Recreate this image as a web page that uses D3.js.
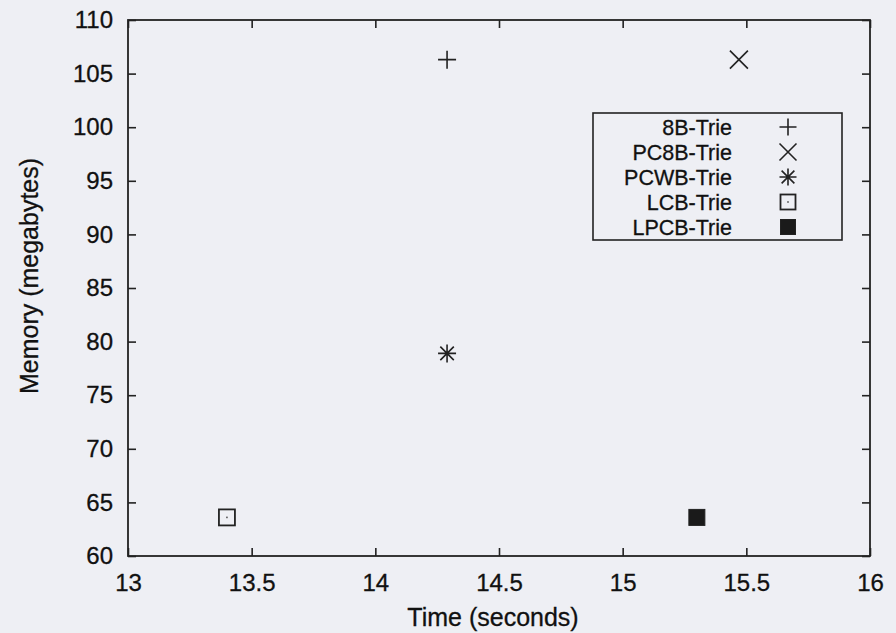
<!DOCTYPE html>
<html><head><meta charset="utf-8">
<script src="https://cdn.jsdelivr.net/npm/d3@7"></script>
<style>
html,body{margin:0;padding:0;background:#eeeff4;}
svg{display:block;}
text{font-family:"Liberation Sans",Arial,Helvetica,sans-serif;fill:#111;stroke:#111;stroke-width:0.3;}
</style></head>
<body>
<svg id="chart" width="896" height="633"></svg>
<script>
const seriesNames = ["8B-Trie","PC8B-Trie","PCWB-Trie","LCB-Trie","LPCB-Trie"];
const timeValues = [14.29, 15.47, 14.29, 13.40, 15.30];
const memoryValues = [106.3, 106.3, 78.9, 63.6, 63.6];
const xTicks = [13,13.5,14,14.5,15,15.5,16];
const yTicks = [60,65,70,75,80,85,90,95,100,105,110];

const W=896,H=633;
const m={left:128,right:870,top:20,bottom:556};
const svg=d3.select("#chart");
svg.append("rect").attr("width",W).attr("height",H).attr("fill","#eeeff4");

const x=d3.scaleLinear().domain([13,16]).range([m.left,m.right]);
const y=d3.scaleLinear().domain([60,110]).range([m.bottom,m.top]);
const ink="#222";
const tickLen=8;

const g=svg.append("g");
const ax=g.append("g").attr("transform",`translate(0,${m.bottom})`)
  .call(d3.axisBottom(x).tickValues(xTicks).tickSize(-tickLen).tickPadding(18).tickFormat(d3.format("")));
const axT=g.append("g").attr("transform",`translate(0,${m.top})`)
  .call(d3.axisTop(x).tickValues(xTicks).tickSize(-tickLen).tickFormat(""));
const ay=g.append("g").attr("transform",`translate(${m.left},0)`)
  .call(d3.axisLeft(y).tickValues(yTicks).tickSize(-tickLen).tickPadding(15).tickFormat(d3.format("")));
const ayR=g.append("g").attr("transform",`translate(${m.right},0)`)
  .call(d3.axisRight(y).tickValues(yTicks).tickSize(-tickLen).tickFormat(""));
[ax,axT,ay,ayR].forEach(a=>{
  a.select(".domain").remove();
  a.selectAll(".tick line").attr("stroke",ink).attr("stroke-width",1.6);
  a.selectAll(".tick text").attr("font-size",24).attr("fill","#111");
});
g.append("rect").attr("x",m.left).attr("y",m.top).attr("width",m.right-m.left).attr("height",m.bottom-m.top)
  .attr("fill","none").attr("stroke",ink).attr("stroke-width",1.8);

svg.append("text").attr("x",(m.left+m.right)/2-6).attr("y",626).attr("text-anchor","middle")
  .attr("font-size",25).text("Time (seconds)");
svg.append("text").attr("transform",`translate(38,${(m.top+m.bottom)/2-12}) rotate(-90)`).attr("text-anchor","middle")
  .attr("font-size",25).text("Memory (megabytes)");

function marker(sel,type,s){
  const h=s/2;
  if(type===0){
    sel.append("path").attr("d",`M${-h},0H${h}M0,${-h}V${h}`).attr("stroke",ink).attr("stroke-width",1.6).attr("fill","none");
  } else if(type===1){
    sel.append("path").attr("d",`M${-h},${-h}L${h},${h}M${-h},${h}L${h},${-h}`).attr("stroke",ink).attr("stroke-width",1.6).attr("fill","none");
  } else if(type===2){
    sel.append("path").attr("d",`M${-h},0H${h}M0,${-h}V${h}M${-h*0.75},${-h*0.75}L${h*0.75},${h*0.75}M${-h*0.75},${h*0.75}L${h*0.75},${-h*0.75}`)
      .attr("stroke",ink).attr("stroke-width",1.6).attr("fill","none");
  } else if(type===3){
    sel.append("rect").attr("x",-h).attr("y",-h).attr("width",s).attr("height",s).attr("fill","none").attr("stroke",ink).attr("stroke-width",1.8);
    sel.append("rect").attr("x",-0.8).attr("y",-0.8).attr("width",1.6).attr("height",1.6).attr("fill","#555");
  } else {
    sel.append("rect").attr("x",-h).attr("y",-h).attr("width",s).attr("height",s).attr("fill","#1a1a1a").attr("stroke",ink).attr("stroke-width",1);
  }
}

const data=seriesNames.map((n,i)=>({name:n,t:timeValues[i],m:memoryValues[i],i}));
g.selectAll("g.pt").data(data).join("g").attr("class","pt")
  .attr("transform",d=>`translate(${x(d.t)},${y(d.m)})`)
  .each(function(d){ marker(d3.select(this),d.i,d.i>=3?16:18); });

const lg=svg.append("g");
lg.append("rect").attr("x",593).attr("y",113).attr("width",249).attr("height",127)
  .attr("fill","#eeeff4").attr("stroke",ink).attr("stroke-width",1.6);
const rows=lg.selectAll("g.row").data(data).join("g").attr("class","row")
  .attr("transform",d=>`translate(0,${127+d.i*25})`);
rows.append("text").attr("x",732).attr("y",0).attr("dy","0.36em").attr("text-anchor","end")
  .attr("font-size",21.5).attr("stroke-width",0.45).text(d=>d.name);
rows.append("g").attr("transform","translate(788,0)").each(function(d){ marker(d3.select(this),d.i,d.i>=3?15:17); });
</script>
</body></html>
